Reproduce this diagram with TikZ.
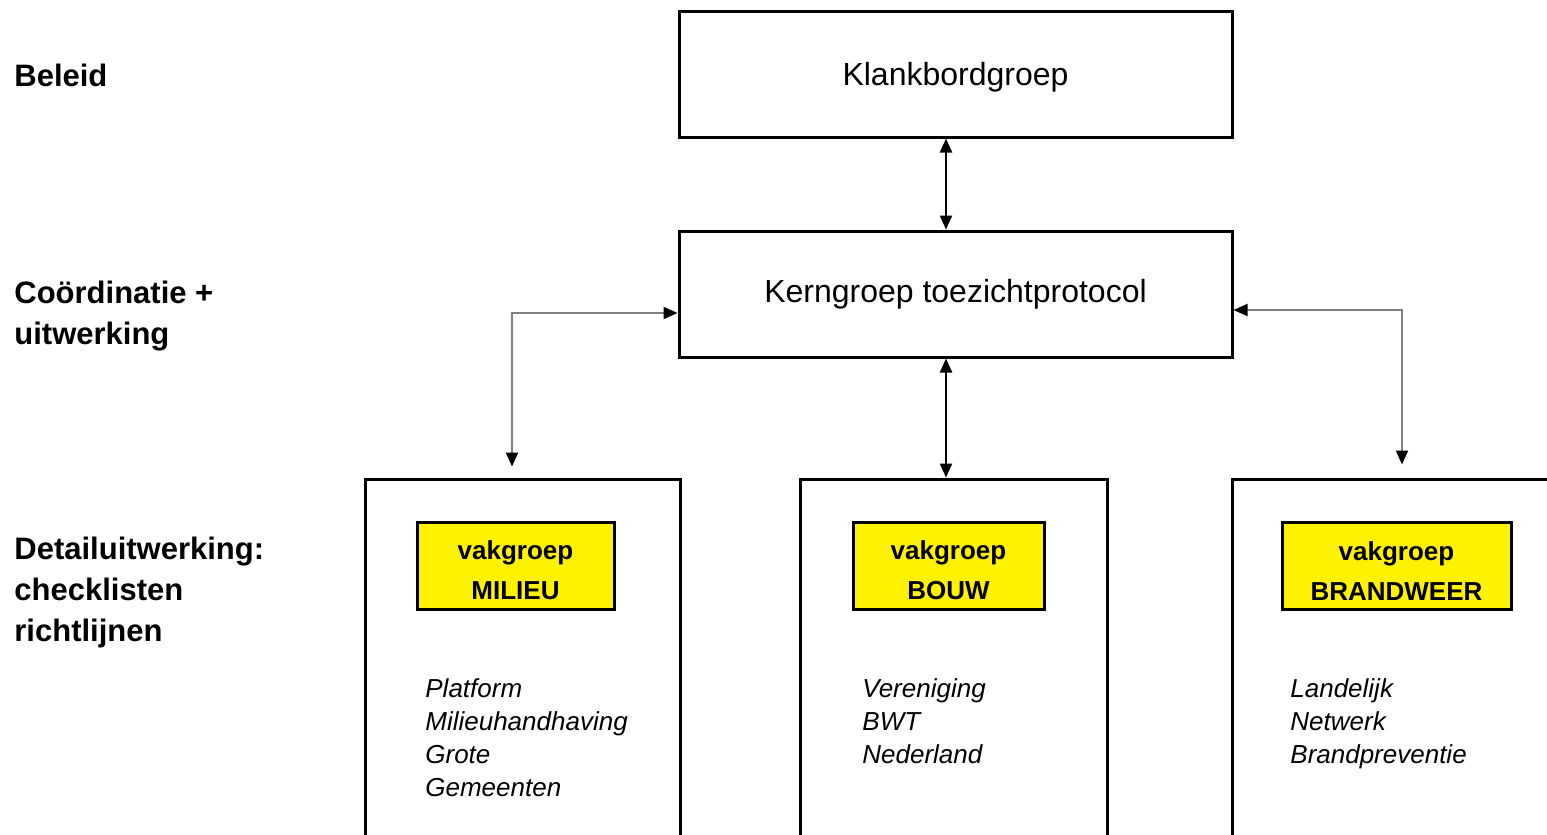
\documentclass[tikz,border=0pt]{standalone}
\usepackage{fontspec}
\setmainfont{Liberation Sans}
\usepackage{tikz}
\usetikzlibrary{arrows.meta,positioning,calc}

\begin{document}
\begin{tikzpicture}[x = .5pt, y = -.5pt,
    box/.style = {draw, line width = 1.5pt, inner sep = 0pt},
    vak/.style = {box, fill = yellow, align = center, text height = 34.5pt, font = \fontsize{13}{20}\selectfont\bfseries},
    lijst/.style = {anchor = west, align = left, inner sep = 0pt, font = \fontsize{13}{16.5}\selectfont\itshape},
    niveau/.style = {anchor = west, align = left, inner sep = 0pt, font = \fontsize{15.5}{20.5}\selectfont\bfseries},
    pijl/.style = {line width = 1pt, {Triangle[length = 7pt, width = 6pt]}-{Triangle[length = 7pt, width = 6pt]}},
    hoek/.style = {line width = 1pt, draw = gray, {Triangle[length = 7pt, width = 6pt, color = black]}-{Triangle[length = 7pt, width = 6pt, color = black]}}]
    \useasboundingbox (0,0) rectangle (1547,835);
    \clip (0,0) rectangle (1547,835);
    % niveaus
    \node[niveau] (beleid) at (14, 75) {Beleid};
    \node[niveau] (coord) at (14, 316.5) {Coördinatie +\\uitwerking};
    \node[niveau] (detail) at (14, 592.5) {Detailuitwerking:\\checklisten\\richtlijnen};
    % groepen
    \node[box, minimum width = 276.5pt, minimum height = 63pt, text depth = 0pt, font = \fontsize{16}{19}\selectfont] (klank) at (955.5, 74) {Klankbordgroep};
    \node[box, minimum width = 276.5pt, minimum height = 63pt, font = \fontsize{16}{19}\selectfont] (kern) at (955.5, 294) {Kerngroep toezichtprotocol};
    \node[box, minimum width = 157.5pt, minimum height = 210pt] (milieu) at (522.5, 689) {};
    \node[box, minimum width = 153.5pt, minimum height = 210pt] (bouw) at (953.5, 689) {};
    \node[box, minimum width = 194pt, minimum height = 210pt] (brand) at (1426, 689) {};
    \node[vak, minimum width = 98.5pt, minimum height = 43.5pt] (vakmilieu) at (515.5, 565.5) {vakgroep\\MILIEU};
    \node[vak, minimum width = 95.5pt, minimum height = 43.5pt] (vakbouw) at (948.5, 565.5) {vakgroep\\BOUW};
    \node[vak, minimum width = 114.5pt, minimum height = 43.5pt] (vakbrand) at (1396.5, 565.5) {vakgroep\\BRANDWEER};
    \node[lijst] (platform) at (425, 738) {Platform\\Milieuhandhaving\\Grote\\Gemeenten};
    \node[lijst] (bwt) at (862, 721) {Vereniging\\BWT\\Nederland};
    \node[lijst] (netwerk) at (1290, 724) {Landelijk\\Netwerk\\Brandpreventie};
    % pijlen
    \coordinate (as) at (946, 0);
    \coordinate (links) at (512, 313);
    \coordinate (rechts) at (1402, 310);
    \draw[pijl] (klank.south -| as) -- (kern.north -| as);
    \draw[pijl] (kern.south -| as) -- (bouw.north -| as);
    \draw[hoek, shorten > = 5.5pt] (kern.west |- links) -- (links) -- (milieu.north -| links);
    \draw[hoek, shorten > = 6.5pt] (kern.east |- rechts) -- (rechts) -- (brand.north -| rechts);
\end{tikzpicture}
\end{document}
